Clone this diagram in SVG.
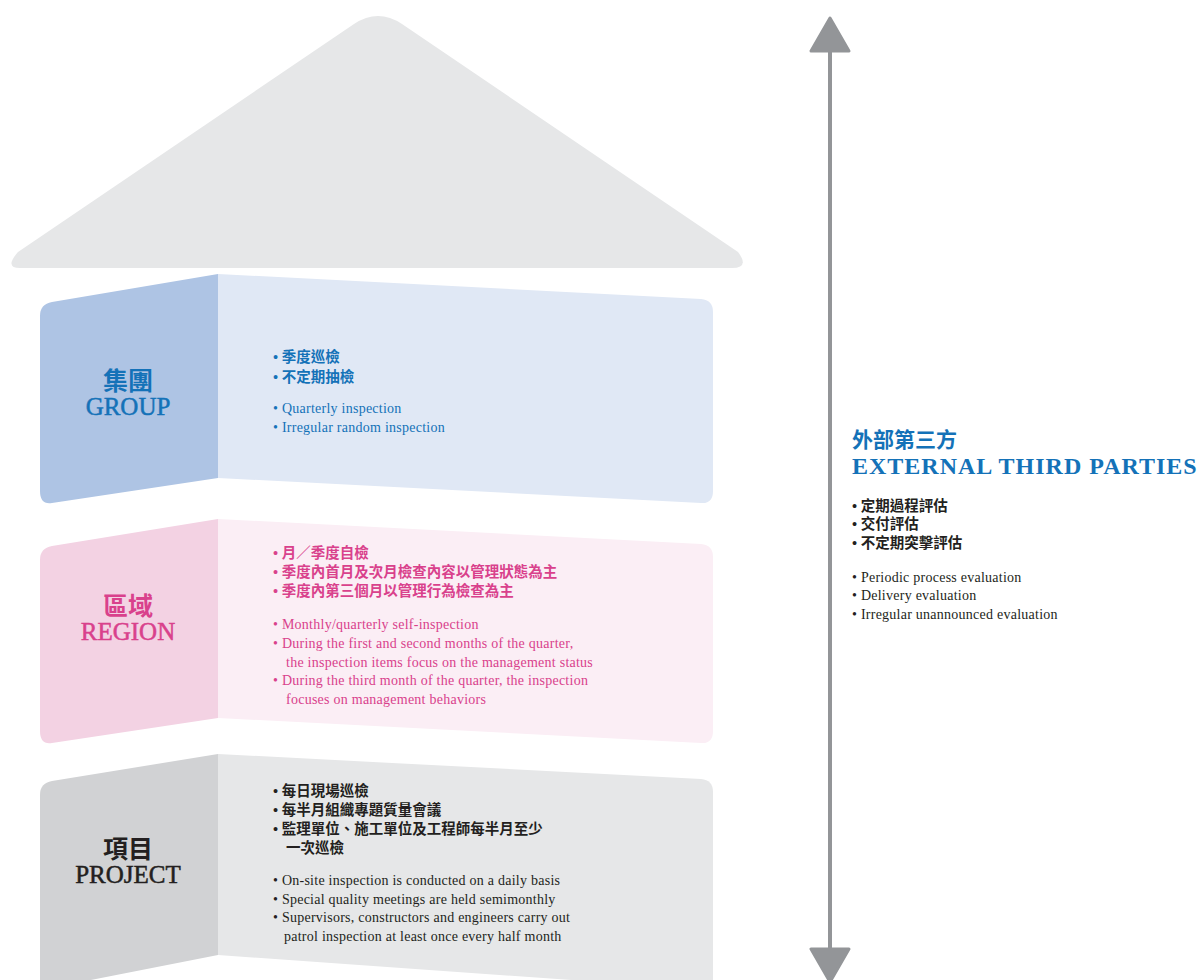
<svg xmlns="http://www.w3.org/2000/svg" width="1198" height="980" viewBox="0 0 1198 980">
<style>
.en{font-family:"Liberation Serif","Times New Roman",serif;}
.cj{font-family:"Liberation Serif","Noto Sans CJK TC",serif;font-weight:bold;}
.b{fill:#1472b8;}
.p{fill:#d9418c;}
.d{fill:#231f20;}
.t{font-size:14px;letter-spacing:0.25px;}
.c{font-size:14.5px;}
.h{font-size:25px;text-anchor:middle;}
.hs{stroke-width:0.5px;}
.b.hs{stroke:#1472b8;}
.p.hs{stroke:#d9418c;}
.d.hs{stroke:#231f20;}
</style>
<rect width="1198" height="980" fill="#ffffff"/>
<g id="roof">
<path d="M20 268 L732 268 Q750 268 738 252 L402 24 Q378 8 354 24 L18 252 Q4 268 20 268 Z" fill="#e6e7e8"/>
</g>
<g id="group">
<path d="M218 274 L52 302 Q40 304 40 316 L40 491 Q40 505 52 503 L218 478 Z" fill="#aec4e4"/>
<path d="M218 274 L701 299 Q713 300 713 312 L713 491 Q713 504 701 503 L218 478 Z" fill="#e0e8f5"/>
<text class="cj h b" x="128" y="390">集團</text>
<text class="en h b hs" x="128" y="415">GROUP</text>
<text class="cj c b" x="273" y="362">• 季度巡檢</text>
<text class="cj c b" x="273" y="382">• 不定期抽檢</text>
<text class="en t b" x="273" y="413">• Quarterly inspection</text>
<text class="en t b" x="273" y="432">• Irregular random inspection</text>
</g>
<g id="region">
<path d="M218 519 L52 546 Q40 548 40 560 L40 731 Q40 745 52 743 L218 718 Z" fill="#f3d2e3"/>
<path d="M218 519 L701 544 Q713 545 713 557 L713 731 Q713 744 701 743 L218 718 Z" fill="#fbeef5"/>
<text class="cj h p" x="128" y="615">區域</text>
<text class="en h p hs" x="128" y="640">REGION</text>
<text class="cj c p" x="273" y="558">• 月／季度自檢</text>
<text class="cj c p" x="273" y="577">• 季度內首月及次月檢查內容以管理狀態為主</text>
<text class="cj c p" x="273" y="596">• 季度內第三個月以管理行為檢查為主</text>
<text class="en t p" x="273" y="629">• Monthly/quarterly self-inspection</text>
<text class="en t p" x="273" y="648">• During the first and second months of the quarter,</text>
<text class="en t p" x="286" y="667">the inspection items focus on the management status</text>
<text class="en t p" x="273" y="685">• During the third month of the quarter, the inspection</text>
<text class="en t p" x="286" y="704">focuses on management behaviors</text>
</g>
<g id="project">
<path d="M218 754 L52 781 Q40 783 40 795 L40 990 L218 955 Z" fill="#d1d2d4"/>
<path d="M218 754 L701 779 Q713 780 713 792 L713 990 L218 955 Z" fill="#e6e7e8"/>
<text class="cj h d" x="128" y="858">項目</text>
<text class="en h d hs" x="128" y="883">PROJECT</text>
<text class="cj c d" x="273" y="796">• 每日現場巡檢</text>
<text class="cj c d" x="273" y="815">• 每半月組織專題質量會議</text>
<text class="cj c d" x="273" y="834">• 監理單位、施工單位及工程師每半月至少</text>
<text class="cj c d" x="286" y="853">一次巡檢</text>
<text class="en t d" x="273" y="885">• On-site inspection is conducted on a daily basis</text>
<text class="en t d" x="273" y="904">• Special quality meetings are held semimonthly</text>
<text class="en t d" x="273" y="922">• Supervisors, constructors and engineers carry out</text>
<text class="en t d" x="284" y="941">patrol inspection at least once every half month</text>
</g>
<g id="connectors">
<line x1="830" y1="50" x2="830" y2="950" stroke="#939598" stroke-width="4"/>
<polygon points="830,18 849,51 811,51" fill="#939598" stroke="#939598" stroke-width="3" stroke-linejoin="round"/>
<polygon points="811,949 849,949 830,982" fill="#939598" stroke="#939598" stroke-width="3" stroke-linejoin="round"/>
</g>
<g id="external">
<text class="cj b" x="852" y="447" font-size="21">外部第三方</text>
<text class="en b" x="852" y="474" font-size="24" font-weight="bold" letter-spacing="1">EXTERNAL THIRD PARTIES</text>
<text class="cj c d" x="852" y="511">• 定期過程評估</text>
<text class="cj c d" x="852" y="529">• 交付評估</text>
<text class="cj c d" x="852" y="548">• 不定期突擊評估</text>
<text class="en t d" x="852" y="582">• Periodic process evaluation</text>
<text class="en t d" x="852" y="600">• Delivery evaluation</text>
<text class="en t d" x="852" y="619">• Irregular unannounced evaluation</text>
</g>
</svg>
